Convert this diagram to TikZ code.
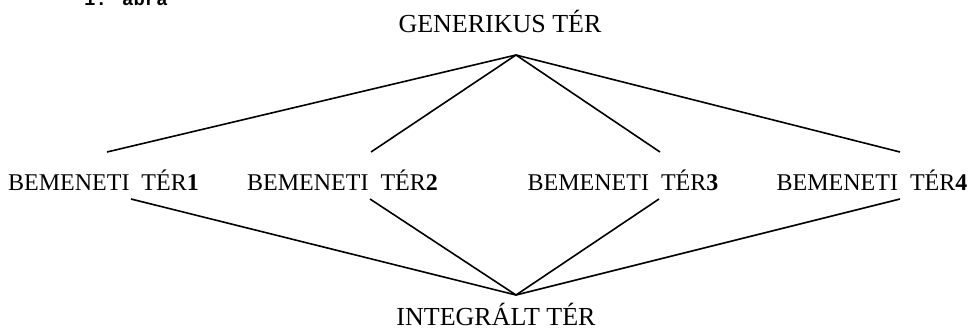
\documentclass[tikz,border=0pt]{standalone}
\usepackage{fontspec}
\setmainfont{Liberation Serif}
\newfontfamily\monofont{Liberation Mono}
\begin{document}
\begin{tikzpicture}[x=1pt,y=-1pt,
  title/.style={inner sep=0pt, anchor=base, font=\fontsize{26}{30}\selectfont},
  label/.style={inner sep=0pt, anchor=base, font=\fontsize{24}{28}\selectfont},
  link/.style={line width=1.6pt, black}]
\useasboundingbox (0,0) rectangle (969,330);
\clip (0,0) rectangle (969,330);
\node[inner sep=0pt, anchor=base, font=\monofont\bfseries\fontsize{19}{20}\selectfont] (cap) at (126,5) {1. ábra};
\node[title] (gen) at (500,32) {GENERIKUS TÉR};
\node[title] (integ) at (496,325) {INTEGRÁLT TÉR};
\node[label] (in1) at (103.5,190) {BEMENETI\hspace{0.5em}TÉR\textbf{1}};
\node[label] (in2) at (342.5,190) {BEMENETI\hspace{0.5em}TÉR\textbf{2}};
\node[label] (in3) at (623,190) {BEMENETI\hspace{0.5em}TÉR\textbf{3}};
\node[label] (in4) at (872,190) {BEMENETI\hspace{0.5em}TÉR\textbf{4}};
\coordinate (gtop) at (516,55);
\coordinate (gbot) at (516,295);
\coordinate (a1) at (107,152);
\coordinate (a2) at (371,152);
\coordinate (a3) at (660,152);
\coordinate (a4) at (900,152);
\coordinate (b1) at (131,199);
\coordinate (b2) at (370,199);
\coordinate (b3) at (659,199);
\coordinate (b4) at (900,199);
\foreach \i in {1,2,3,4} {
  \draw[link] (gtop) -- (a\i);
  \draw[link] (b\i) -- (gbot);
}
\end{tikzpicture}
\end{document}
